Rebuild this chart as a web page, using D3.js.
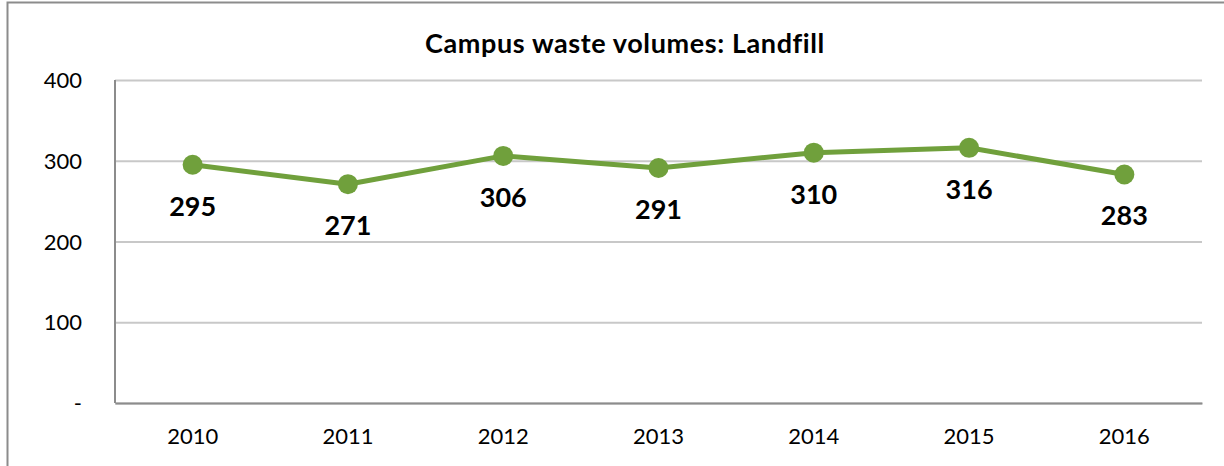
<!DOCTYPE html>
<html>
<head>
<meta charset="utf-8">
<script src="https://cdn.jsdelivr.net/npm/d3@7"></script>
<style>
  body { margin: 0; background: #fff; }
  svg { display: block; font-family: Lato, "Open Sans", sans-serif; }
  .axis text { fill: #000; font-size: 22px; font-family: Lato, "Open Sans", sans-serif; }
</style>
</head>
<body>
<svg id="chart" width="1224" height="466"></svg>
<script>
const years = ['2010', '2011', '2012', '2013', '2014', '2015', '2016'];
const landfill = [295, 271, 306, 291, 310, 316, 283];
const yTicks = [0, 100, 200, 300, 400];

const MARGIN = { top: 80, right: 22, bottom: 63, left: 115 };
const W = 1224, H = 466;
const width = W - MARGIN.left - MARGIN.right;
const height = H - MARGIN.top - MARGIN.bottom;
const GREEN = '#70a03c';

const $svg = d3.select('#chart');

// outer chart border
$svg.append('rect')
  .attr('x', 7.5).attr('y', 2.5)
  .attr('width', W).attr('height', H)
  .attr('fill', 'none')
  .attr('stroke', '#8c8c8c')
  .attr('stroke-width', 2);

$svg.append('text')
  .attr('x', 625).attr('y', 53)
  .attr('text-anchor', 'middle')
  .style('font-size', '27px')
  .style('font-weight', 'bold')
  .style('letter-spacing', '0.6px')
  .text('Campus waste volumes: Landfill');

const g = $svg.append('g').attr('transform', `translate(${MARGIN.left},${MARGIN.top})`);

const x = d3.scaleBand().domain(years).range([0, width]);
const y = d3.scaleLinear().domain([0, 400]).range([height, 0]);

// gridlines + y labels
const axisY = d3.axisLeft(y)
  .tickValues(yTicks)
  .tickSize(-width)
  .tickPadding(33)
  .tickFormat(d => d === 0 ? '-' : d);

g.append('g').attr('class', 'axis axis--y').call(axisY)
  .call(s => s.select('.domain').remove())
  .call(s => s.selectAll('.tick line').attr('stroke', '#c8c8c8').attr('stroke-width', 2))
  .call(s => s.selectAll('.tick text').attr('dy', '0.35em'));

// left axis line
g.append('line')
  .attr('x1', 0).attr('x2', 0)
  .attr('y1', y(400)).attr('y2', y(0))
  .attr('stroke', '#8c8c8c').attr('stroke-width', 2);

// x axis
const axisX = d3.axisBottom(x).tickSize(0).tickPadding(25);
g.append('g').attr('class', 'axis axis--x')
  .attr('transform', `translate(0,${height})`)
  .call(axisX)
  .call(s => s.select('.domain').attr('stroke', '#8c8c8c').attr('stroke-width', 2));

const cx = d => x(d) + x.bandwidth() / 2;

const line = d3.line()
  .x((d, i) => cx(years[i]))
  .y(d => y(d));

g.append('path')
  .datum(landfill)
  .attr('d', line)
  .attr('fill', 'none')
  .attr('stroke', GREEN)
  .attr('stroke-width', 5)
  .attr('stroke-linejoin', 'round');

g.selectAll('.dot')
  .data(landfill)
  .join('circle')
  .attr('class', 'dot')
  .attr('cx', (d, i) => cx(years[i]))
  .attr('cy', d => y(d))
  .attr('r', 10)
  .attr('fill', GREEN);

g.selectAll('.label')
  .data(landfill)
  .join('text')
  .attr('class', 'label')
  .attr('x', (d, i) => cx(years[i]))
  .attr('y', d => y(d) + 51)
  .attr('text-anchor', 'middle')
  .style('font-size', '27px')
  .style('font-weight', 'bold')
  .text(d => d);
</script>
</body>
</html>
